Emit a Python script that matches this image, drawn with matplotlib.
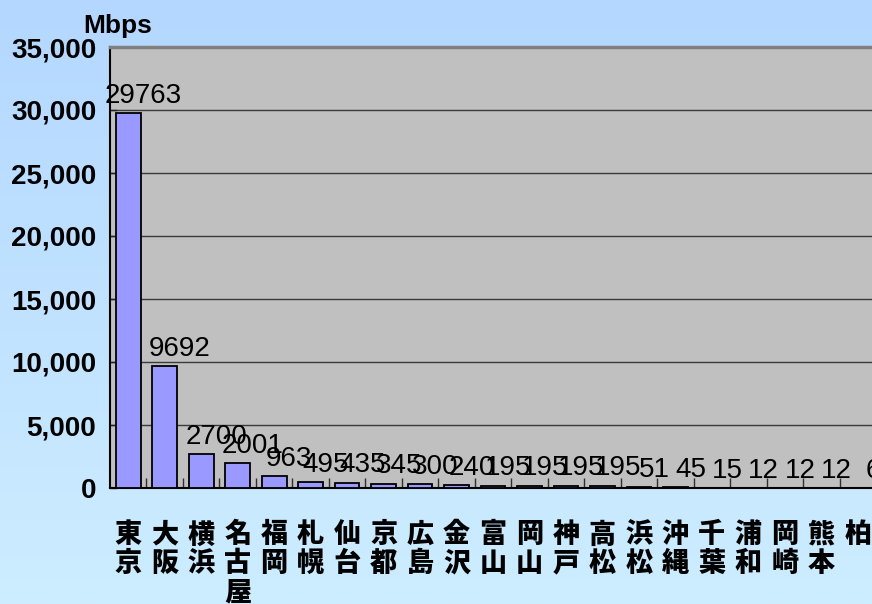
import numpy as np
import matplotlib.pyplot as plt
from matplotlib.ticker import FuncFormatter, FixedLocator

# 都市別の回線帯域 (Mbps)
cities = ['東京', '大阪', '横浜', '名古屋', '福岡', '札幌', '仙台', '京都', '広島', '金沢', '富山',
          '岡山', '神戸', '高松', '浜松', '沖縄', '千葉', '浦和', '岡崎', '熊本', '柏']
mbps = [29763, 9692, 2700, 2001, 963, 495, 435, 345, 300, 240, 195,
        195, 195, 195, 51, 45, 15, 12, 12, 12, 6]
yticks = [0, 5000, 10000, 15000, 20000, 25000, 30000, 35000]

W, H = 872, 604
fig = plt.figure(figsize=(W / 100, H / 100), dpi=100)

# 背景のグラデーション
bg = fig.add_axes([0, 0, 1, 1], zorder=-1)
top = np.array([180, 215, 255]) / 255
bottom = np.array([205, 237, 255]) / 255
t = np.linspace(0, 1, 256)[:, None, None]
grad = top * (1 - t) + bottom * t
bg.imshow(np.repeat(grad, 2, axis=1), aspect='auto', extent=[0, 1, 0, 1])
bg.axis('off')

ax = fig.add_axes([110 / W, 1 - 488 / H, 766 / W, (488 - 47) / H])
ax.set_facecolor('#C0C0C0')

x = np.arange(len(cities))
bars = ax.bar(x, mbps, width=0.68, color='#9999FF', edgecolor='black', linewidth=1.3, zorder=3)

ax.set_xlim(-0.5, len(cities) - 0.5)
ax.set_ylim(0, 35000)
ax.set_yticks(yticks)
ax.yaxis.set_major_formatter(FuncFormatter(lambda v, p: f'{int(v):,}'))
ax.grid(axis='y', color='#3a3a3a', linewidth=1, zorder=1)

num_font = ['Liberation Sans', 'DejaVu Sans']
ax.tick_params(axis='y', direction='in', length=5, width=1, pad=10, labelsize=20, color='#202020')
for lab in ax.get_yticklabels():
    lab.set_fontfamily(num_font)
    lab.set_fontweight('bold')

# 都市名は縦書き
ax.set_xticks(x)
ax.set_xticklabels(['\n'.join(c) for c in cities], fontfamily=['Noto Sans CJK JP', 'DejaVu Sans'],
                   fontweight='heavy', fontsize=19.5, linespacing=1.02, va='top')
ax.tick_params(axis='x', length=0, pad=23)
ax.xaxis.set_minor_locator(FixedLocator(x[:-1] + 0.5))
ax.tick_params(axis='x', which='minor', direction='in', length=7, width=1, color='#303030')

for side in ['left', 'bottom']:
    ax.spines[side].set_color('black')
    ax.spines[side].set_linewidth(1.5)
ax.spines['top'].set_color('#808080')
ax.spines['top'].set_linewidth(2.5)
ax.spines['right'].set_visible(False)

for b, v in zip(bars, mbps):
    ax.annotate(f'{v}', xy=(b.get_x() + b.get_width() / 2, v), xytext=(11, 3),
                textcoords='offset points', ha='center', va='bottom',
                fontsize=20, fontfamily=num_font, color='black', zorder=4)

fig.text(118 / W, 1 - 26 / H, 'Mbps', ha='center', va='center', fontsize=19, fontweight='bold',
         fontfamily=['Liberation Sans Narrow', 'Liberation Sans', 'DejaVu Sans'])

fig.savefig('out.png', dpi=100)
